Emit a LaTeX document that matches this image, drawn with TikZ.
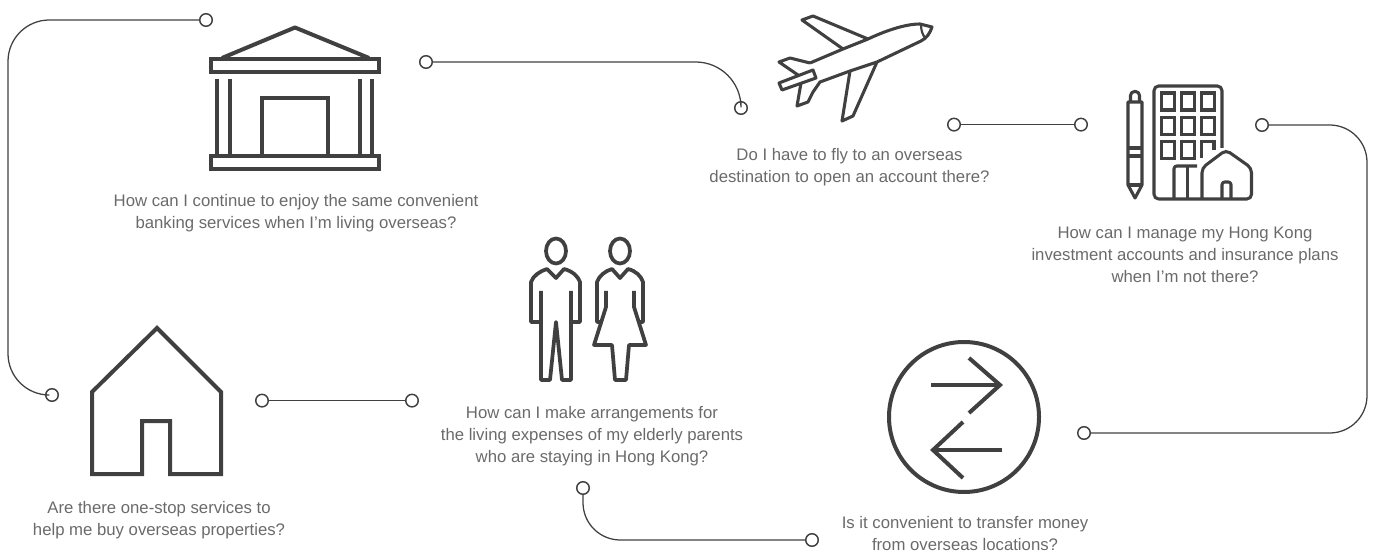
\documentclass[tikz,border=0pt]{standalone}
\usepackage{fontspec}
\setmainfont{Liberation Sans}
\definecolor{ink}{HTML}{404040}
\definecolor{txt}{HTML}{6A6A6A}
\tikzset{
  pin/.style={circle,draw=ink,fill=white,line width=1.1pt,minimum size=9.4pt,inner sep=0pt},
  link/.style={draw=ink,line width=0.95pt},
  icon/.style={draw=ink,line width=3pt,line join=miter},
  iconthin/.style={draw=ink,line width=2.3pt,line join=round},
  caption/.style={text=txt,align=center,font=\fontsize{12.55pt}{16.5pt}\selectfont,inner sep=0pt}
}
\begin{document}
\begin{tikzpicture}[x=0.75pt,y=-0.75pt]
\useasboundingbox (0,0) rectangle (1374,552);
% connectors
\node[pin] (a1) at (206,20) {};
\node[pin] (a2) at (52,395) {};
\node[pin] (b1) at (426,62) {};
\node[pin] (b2) at (741,108) {};
\node[pin] (c1) at (954,124.6) {};
\node[pin] (c2) at (1081,124.6) {};
\node[pin] (d1) at (1262,125) {};
\node[pin] (d2) at (1084,433) {};
\node[pin] (e1) at (262,400.6) {};
\node[pin] (e2) at (412,400.6) {};
\node[pin] (f1) at (583,488) {};
\node[pin] (f2) at (812,540) {};
\draw[link,rounded corners=31pt] (a1) -- (8,20) -- (8,395) -- (a2);
\draw[link,rounded corners=34pt] (b1) -- (741,62) -- (b2);
\draw[link] (c1) -- (c2);
\draw[link,rounded corners=28pt] (d1) -- (1367,125) -- (1367,433) -- (d2);
\draw[link] (e1) -- (e2);
\draw[link,rounded corners=28pt] (f1) -- (583,540) -- (f2);
% bank
\draw[icon] (211,59.5) rectangle (379,72);
\draw[icon] (211,156) rectangle (379,169);
\draw[icon,line join=round] (222,58) -- (295,27.5) -- (369,58);
\draw[icon] (217,79) -- (217,155) (230,79) -- (230,155) (359.5,79) -- (359.5,155) (372,79) -- (372,155);
\draw[icon] (261.5,155) -- (261.5,98) -- (328,98) -- (328,155);
% plane
\draw[iconthin] (810,63) -- (843,49) -- (868,39) .. controls (885,31) and (905,24) .. (920,24) -- (932,27) .. controls (930,33) and (927,38) .. (921,41) -- (877,62) -- (850,71) -- (820,82) -- (813,92) -- (808,102) -- (797,106) -- (801,83);
\draw[iconthin] (843,49) -- (802,20) -- (813,16) -- (868,39);
\draw[iconthin] (850,71) -- (842,121) -- (853,116) -- (877,62);
\draw[iconthin] (810,63) -- (790,58) -- (779,62) -- (798,75);
\draw[iconthin] (779,83) -- (813,70) -- (816,78) -- (782,90) -- cycle;
\draw[draw=ink,line width=1.6pt] (921,25) .. controls (921,31) and (923,35) .. (925,38);
% building
\draw[iconthin,rounded corners=3.5pt] (1222,148) -- (1222,86) -- (1154,86) -- (1154,199) -- (1251.5,199) -- (1251.5,168) -- (1226,150) -- (1202,168) -- (1202,199);
\foreach \xx in {1161.5,1181.5,1201.5}{
  \foreach \yy in {93,117.5}{ \draw[iconthin,line join=miter] (\xx,\yy) rectangle ++(13,17); }
}
\draw[iconthin,line join=miter] (1161.5,141.5) rectangle ++(13,17);
\draw[iconthin,line join=miter] (1181.5,141.5) rectangle ++(13,17);
\draw[iconthin,line join=miter] (1214,150) -- (1214,141.5) -- (1201.5,141.5) -- (1201.5,158.5);
\draw[iconthin,rounded corners=2pt] (1174,199) -- (1174,166) -- (1197,166);
\draw[iconthin] (1187.5,166) -- (1187.5,199);
\draw[iconthin,rounded corners=2pt] (1222,199) -- (1222,182) -- (1231,182) -- (1231,199);
% pen
\draw[iconthin] (1128,102) -- (1142,102) -- (1142,185) -- (1135,198) -- (1128,185) -- cycle;
\draw[iconthin,rounded corners=3pt] (1130.5,102) -- (1130.5,91.5) -- (1139.5,91.5) -- (1139.5,102);
\draw[iconthin] (1128,148) -- (1142,148) (1128,156) -- (1142,156) (1128,185) -- (1142,185);
% man
\draw[icon,line width=2.8pt] (556,251) ellipse[x radius=10,y radius=12.5];
\draw[icon,line width=2.8pt,line join=round] (541,291) -- (541,380) -- (550,380) -- (556,322) -- (562,380) -- (571,380) -- (571,291);
\draw[icon,line width=2.8pt,line join=round] (541,322) -- (531,322) -- (531,282) .. controls (533,276) and (540,271) .. (547,269) -- (556,278) -- (564,269) .. controls (572,271) and (578,276) .. (580,282) -- (580,322) -- (571,322);
% woman
\draw[icon,line width=2.8pt] (620,251) ellipse[x radius=10,y radius=12.5];
\draw[icon,line width=2.8pt,line join=round] (606,291) -- (606,307) -- (594,345) -- (612,345) -- (615,380) -- (626,380) -- (629,345) -- (646,345) -- (634,307) -- (634,291);
\draw[icon,line width=2.8pt,line join=round] (601,322) -- (597,322) -- (597,282) .. controls (599,276) and (605,271) .. (612,269) -- (620,278) -- (628,269) .. controls (636,271) and (641,276) .. (643,282) -- (643,322) -- (638,322);
% exchange
\draw[icon] (964,417) circle[radius=75];
\draw[icon] (931,385) -- (1000,385);
\draw[icon] (969,358) -- (1000,385) -- (969,413);
\draw[icon] (1002,450) -- (934,450);
\draw[icon] (963,422) -- (933,450) -- (963,478);
% house
\draw[icon] (142,474) -- (92,474) -- (92,392) -- (157,328) -- (221,392) -- (221,474) -- (170,474) -- (170,421) -- (142,421) -- cycle;
% captions
\node[caption] (t1) at (296,213) {How can I continue to enjoy the same convenient\\banking services when I’m living overseas?};
\node[caption] (t2) at (849.5,167) {Do I have to fly to an overseas\\destination to open an account there?};
\node[caption] (t3) at (1185,255) {How can I manage my Hong Kong\\investment accounts and insurance plans\\when I’m not there?};
\node[caption] (t4) at (592,436) {How can I make arrangements for\\the living expenses of my elderly parents\\who are staying in Hong Kong?};
\node[caption] (t5) at (159,520) {Are there one-stop services to\\help me buy overseas properties?};
\node[caption] (t6) at (965,534) {Is it convenient to transfer money\\from overseas locations?};
\end{tikzpicture}
\end{document}
